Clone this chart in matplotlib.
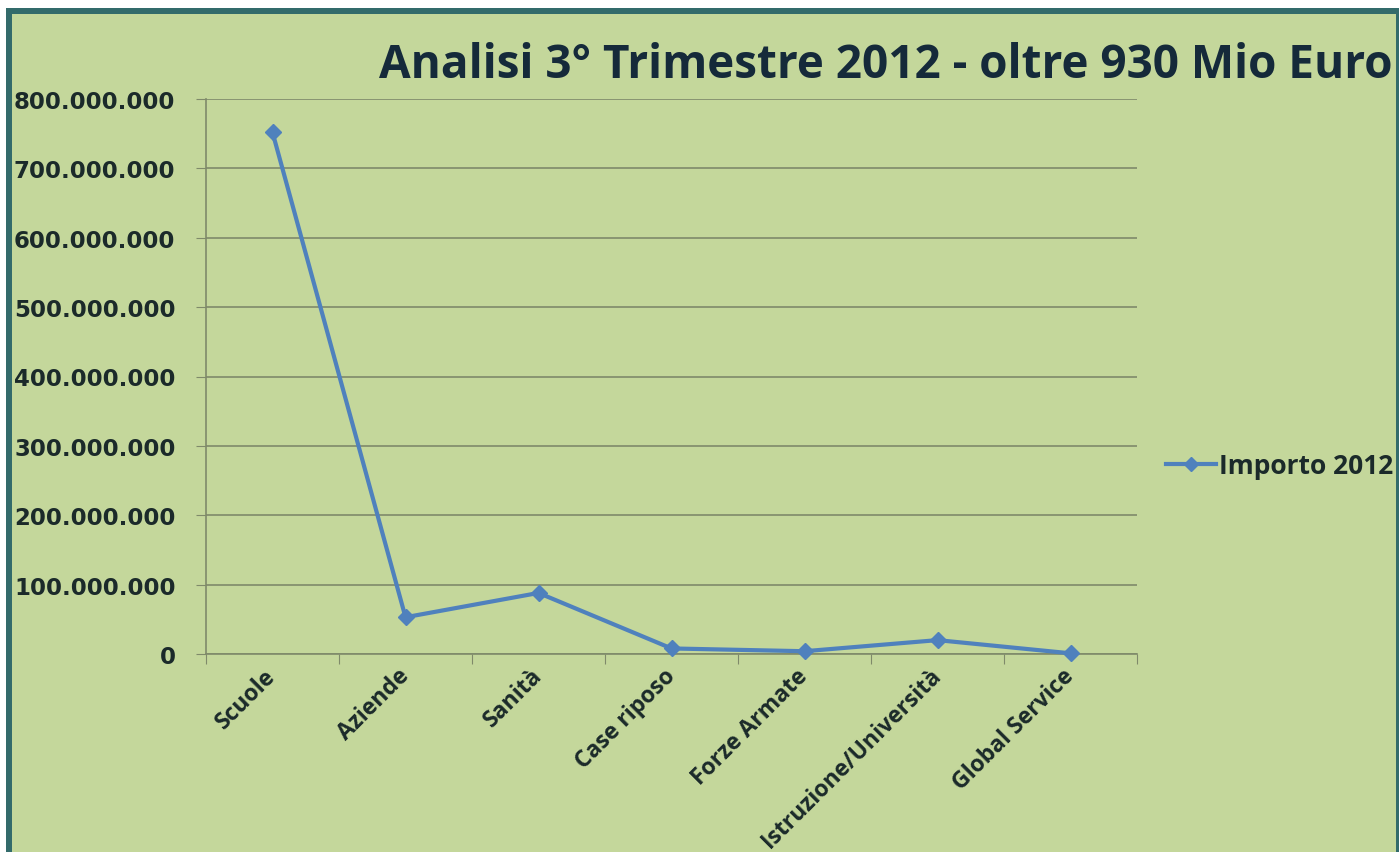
import matplotlib.pyplot as plt
from matplotlib.patches import Rectangle
from matplotlib.ticker import FuncFormatter
from matplotlib.lines import Line2D

# data
categories = ["Scuole", "Aziende", "Sanità", "Case riposo", "Forze Armate",
              "Istruzione/Università", "Global Service"]
importo_2012 = [752e6, 53e6, 88e6, 8e6, 4e6, 20e6, 1e6]
series_name = "Importo 2012"
title = "Analisi 3° Trimestre 2012 - oltre 930 Mio Euro"

bg = "#c4d79b"
border = "#336b6b"
line_col = "#4f81bd"
text_col = "#1b2a2a"
grid_col = "#7f8a6a"

W, H = 1399, 853
fig = plt.figure(figsize=(W / 100, H / 100), dpi=100, facecolor="white")

# frame: teal border with green fill
fig.patches.append(Rectangle((6 / W, 0), 1 - 6 / W, 1 - 9 / H, transform=fig.transFigure,
                             facecolor=border, edgecolor="none", zorder=-2))
fig.patches.append(Rectangle((12 / W, 0), 1 - 15 / W, 1 - 15 / H, transform=fig.transFigure,
                             facecolor=bg, edgecolor="none", zorder=-1))

ax = fig.add_axes([206 / W, 1 - 655 / H, 931 / W, 555 / H])
ax.set_facecolor("none")

x = list(range(len(categories)))
ax.plot(x, importo_2012, color=line_col, linewidth=3, marker="D", markersize=8,
        markerfacecolor=line_col, markeredgecolor=line_col, zorder=3, clip_on=False)

ax.set_xlim(-0.5, len(categories) - 0.5)
ax.set_ylim(0, 800e6)
ax.set_yticks([i * 100e6 for i in range(9)])
ax.yaxis.set_major_formatter(FuncFormatter(lambda v, p: f"{int(v):,}".replace(",", ".")))
ax.grid(axis="y", color=grid_col, linewidth=1.2)
ax.set_axisbelow(True)

for s in ["top", "right"]:
    ax.spines[s].set_visible(False)
for s in ["left", "bottom"]:
    ax.spines[s].set_color(grid_col)
    ax.spines[s].set_linewidth(1.2)

ax.tick_params(axis="y", length=7, color=grid_col, pad=15, labelsize=16.5,
               labelcolor=text_col)
for lab in ax.get_yticklabels():
    lab.set_fontweight("bold")

# category ticks at boundaries, labels at centres
ax.set_xticks([i - 0.5 for i in range(len(categories) + 1)])
ax.set_xticklabels([])
ax.tick_params(axis="x", length=7, color=grid_col)
ax.set_xticks(x, minor=True)
ax.set_xticklabels(categories, minor=True, rotation=45, ha="right", va="center",
                   rotation_mode="anchor", fontsize=16.5, fontweight="bold",
                   family="Open Sans", color=text_col)
ax.tick_params(axis="x", which="minor", length=0, pad=13)

fig.text(886 / W, 1 - 66 / H, title, ha="center", va="center", fontsize=33,
         fontweight="bold", family="Open Sans", color="#152a3a")

handle = Line2D([], [], color=line_col, linewidth=3, marker="D", markersize=7)
fig.legend([handle], [series_name], loc="center left",
           bbox_to_anchor=(1158 / W, 1 - 467 / H), frameon=False,
           prop={"family": "Open Sans", "weight": "bold", "size": 19},
           handlelength=1.9, handletextpad=0.1, labelcolor=text_col,
           borderaxespad=0, borderpad=0.3)

fig.savefig("out.png", dpi=100, facecolor="white")
